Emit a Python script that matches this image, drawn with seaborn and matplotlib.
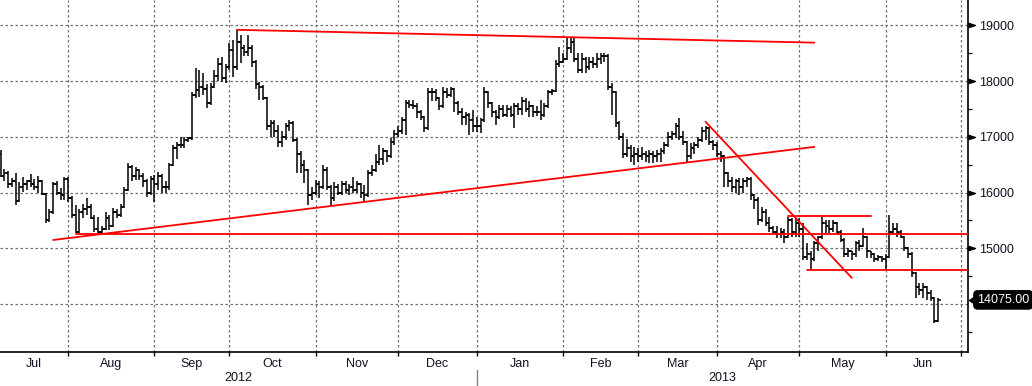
import matplotlib
matplotlib.use('Agg')
import numpy as np
import pandas as pd
import matplotlib.pyplot as plt
import matplotlib.transforms as mtransforms
import seaborn as sns

# daily bars, first bar on 2012-07-06 (business days)
first_day = '2012-07-06'

highs = [16770, 16420, 16380, 16260, 16350, 16190, 16280, 16230, 16330, 16250,
         16300, 16220, 16000, 15700, 16190, 16200, 16080, 16280, 16280, 15940,
         15780, 15700, 15800, 15900, 15800, 15600, 15560, 15400, 15650, 15600,
         15720, 15700, 15800, 16100, 16530, 16500, 16460, 16430, 16350, 16240,
         16300, 16310, 16370, 16330, 16200, 16530, 16860, 16900, 17000, 17000,
         17000, 17800, 18230, 18200, 18150, 17950, 17960, 18200, 18410, 18430,
         18300, 18680, 18740, 18920, 18830, 18650, 18830, 18640, 18380, 17980,
         17930, 17710, 17300, 17300, 17210, 17100, 17250, 17300, 17280, 16980,
         16740, 16590, 16420, 16100, 16230, 16200, 16490, 16450, 16130, 16190,
         16150, 16200, 16200, 16150, 16280, 16200, 16180, 16140, 16400, 16500,
         16700, 16850, 16800, 16760, 16980, 17120, 17200, 17350, 17660, 17660,
         17660, 17600, 17480, 17380, 17880, 17880, 17850, 17720, 17890, 17880,
         17900, 17880, 17650, 17510, 17450, 17430, 17480, 17350, 17340, 17890,
         17830, 17620, 17480, 17570, 17570, 17570, 17550, 17600, 17600, 17710,
         17700, 17650, 17570, 17550, 17660, 17600, 17840, 17850, 18380, 18620,
         18500, 18770, 18770, 18770, 18500, 18500, 18430, 18430, 18430, 18500,
         18500, 18500, 18480, 17960, 17830, 17280, 17060, 16970, 16850, 16820,
         16800, 16820, 16750, 16760, 16750, 16760, 16800, 16900, 17080, 17100,
         17240, 17330, 17100, 16930, 16890, 16900, 17000, 17180, 17200, 17180,
         16950, 16900, 16750, 16680, 16370, 16280, 16250, 16260, 16260, 16280,
         16280, 15980, 15920, 15740, 15700, 15560, 15400, 15400, 15360, 15350,
         15560, 15540, 15540, 15540, 15450, 15100, 14950, 15140, 15230, 15560,
         15500, 15500, 15500, 15480, 15330, 15180, 15000, 14960, 15140, 15150,
         15360, 15230, 14960, 14910, 14880, 14870, 14900, 15590, 15450, 15450,
         15330, 15230, 15020, 14930, 14580, 14380, 14380, 14330, 14250, 14120,
         14100]

lows = [16280, 16200, 16090, 16100, 15780, 15830, 16010, 16050, 16100, 16050,
        16000, 15950, 15450, 15480, 15620, 15950, 15870, 15870, 15830, 15540,
        15270, 15280, 15550, 15600, 15520, 15300, 15280, 15280, 15330, 15330,
        15380, 15550, 15560, 15720, 16020, 16200, 16230, 16230, 16100, 15920,
        15950, 15830, 16050, 15990, 16000, 16050, 16470, 16600, 16800, 16800,
        16900, 16950, 17700, 17710, 17750, 17510, 17580, 17880, 18000, 17980,
        17960, 18200, 18070, 18200, 18320, 18450, 18450, 18250, 17860, 17660,
        17660, 17120, 17000, 17000, 16820, 16820, 16950, 17100, 16900, 16350,
        16350, 16170, 15780, 15870, 15960, 15900, 16060, 16050, 15780, 15850,
        15950, 15950, 16000, 15950, 16000, 16000, 15900, 15830, 15920, 16300,
        16370, 16490, 16500, 16550, 16620, 16850, 17000, 17050, 17030, 17520,
        17500, 17340, 17300, 17080, 17120, 17640, 17640, 17480, 17520, 17700,
        17720, 17440, 17400, 17210, 17210, 17030, 17080, 17080, 17070, 17270,
        17510, 17350, 17210, 17320, 17350, 17350, 17350, 17150, 17400, 17400,
        17450, 17350, 17350, 17380, 17300, 17350, 17520, 17750, 17800, 18250,
        18320, 18380, 18500, 18340, 18140, 18140, 18150, 18200, 18230, 18230,
        18300, 18350, 17840, 17390, 17170, 16950, 16620, 16630, 16550, 16490,
        16550, 16580, 16550, 16530, 16530, 16550, 16550, 16700, 16820, 16950,
        16980, 16950, 16850, 16530, 16600, 16700, 16800, 16900, 16950, 16850,
        16760, 16630, 16550, 16100, 16100, 16010, 16000, 15960, 16000, 16100,
        15870, 15700, 15420, 15470, 15400, 15300, 15270, 15180, 15180, 15100,
        15180, 15200, 15200, 15200, 14790, 14790, 14610, 14770, 14960, 15170,
        15270, 15270, 15300, 15250, 15110, 14840, 14840, 14790, 14850, 14950,
        15020, 14820, 14820, 14750, 14780, 14750, 14610, 14820, 15250, 15200,
        15180, 14960, 14820, 14490, 14110, 14160, 14100, 14070, 14050, 13660,
        13670]

opens = [16700, 16300, 16350, 16150, 16200, 15850, 16100, 16150, 16200, 16150,
         16100, 16200, 15980, 15500, 15650, 16150, 16000, 15950, 16250, 15900,
         15600, 15300, 15650, 15700, 15750, 15550, 15350, 15300, 15350, 15550,
         15400, 15650, 15600, 15750, 16050, 16450, 16300, 16400, 16300, 16200,
         16000, 16250, 16150, 16300, 16100, 16100, 16500, 16800, 16850, 16850,
         16950, 16980, 17750, 17840, 17900, 17850, 17600, 17900, 18100, 18300,
         18050, 18250, 18550, 18250, 18700, 18600, 18520, 18600, 18340, 17950,
         17900, 17700, 17200, 17250, 17100, 16900, 17000, 17200, 17250, 16950,
         16700, 16500, 16400, 15950, 16000, 16150, 16100, 16400, 16100, 15900,
         16100, 16000, 16150, 16050, 16100, 16050, 16150, 16000, 15950, 16350,
         16400, 16550, 16600, 16750, 16650, 16900, 17050, 17100, 17300, 17600,
         17580, 17550, 17450, 17350, 17150, 17800, 17800, 17700, 17550, 17800,
         17750, 17850, 17600, 17450, 17350, 17400, 17300, 17200, 17200, 17300,
         17800, 17600, 17450, 17350, 17500, 17400, 17500, 17400, 17550, 17500,
         17650, 17500, 17550, 17450, 17450, 17400, 17550, 17800, 17820, 18300,
         18350, 18400, 18600, 18700, 18400, 18200, 18400, 18250, 18350, 18300,
         18400, 18450, 18450, 17900, 17800, 17250, 17000, 16700, 16800, 16650,
         16700, 16650, 16700, 16650, 16700, 16650, 16700, 16750, 16850, 17000,
         17050, 17200, 17000, 16900, 16650, 16800, 16850, 16950, 17100, 17150,
         16900, 16850, 16700, 16650, 16350, 16200, 16100, 16200, 16100, 16200,
         16250, 15950, 15870, 15500, 15650, 15450, 15360, 15300, 15250, 15300,
         15200, 15500, 15300, 15450, 15350, 14850, 14900, 14800, 15100, 15200,
         15450, 15400, 15350, 15450, 15300, 15150, 14900, 14950, 14900, 15100,
         15050, 15200, 14950, 14900, 14800, 14850, 14800, 14850, 15300, 15350,
         15300, 15200, 15000, 14900, 14550, 14300, 14250, 14300, 14200, 14100,
         13700]

closes = [16300, 16350, 16150, 16200, 15850, 16100, 16150, 16200, 16150, 16100,
          16200, 15980, 15500, 15650, 16150, 16000, 15950, 16250, 15900, 15600,
          15300, 15650, 15700, 15750, 15550, 15350, 15300, 15350, 15550, 15400,
          15650, 15600, 15750, 16050, 16450, 16300, 16400, 16300, 16200, 16000,
          16250, 16150, 16300, 16100, 16100, 16500, 16800, 16850, 16850, 16950,
          16980, 17750, 17840, 17900, 17850, 17600, 17900, 18100, 18300, 18050,
          18250, 18550, 18250, 18700, 18600, 18520, 18600, 18340, 17950, 17900,
          17700, 17200, 17250, 17100, 16900, 17000, 17200, 17250, 16950, 16700,
          16500, 16400, 15950, 16000, 16150, 16100, 16400, 16100, 15900, 16100,
          16000, 16150, 16050, 16100, 16050, 16150, 16000, 15950, 16350, 16400,
          16550, 16600, 16750, 16650, 16900, 17050, 17100, 17300, 17600, 17580,
          17550, 17450, 17350, 17150, 17800, 17800, 17700, 17550, 17800, 17750,
          17850, 17600, 17450, 17350, 17400, 17300, 17200, 17200, 17300, 17800,
          17600, 17450, 17350, 17500, 17400, 17500, 17400, 17550, 17500, 17650,
          17500, 17550, 17450, 17450, 17400, 17550, 17800, 17820, 18300, 18350,
          18400, 18600, 18700, 18400, 18200, 18400, 18250, 18350, 18300, 18400,
          18450, 18450, 17900, 17800, 17250, 17000, 16700, 16800, 16650, 16700,
          16650, 16700, 16650, 16700, 16650, 16700, 16750, 16850, 17000, 17050,
          17200, 17000, 16900, 16650, 16800, 16850, 16950, 17100, 17150, 16900,
          16850, 16700, 16650, 16350, 16200, 16100, 16200, 16100, 16200, 16250,
          15950, 15870, 15500, 15650, 15450, 15360, 15300, 15250, 15300, 15200,
          15500, 15300, 15450, 15350, 14850, 14900, 14800, 15100, 15200, 15450,
          15400, 15350, 15450, 15300, 15150, 14900, 14950, 14900, 15100, 15050,
          15200, 14950, 14900, 14800, 14850, 14800, 14850, 15300, 15350, 15300,
          15200, 15000, 14900, 14550, 14300, 14250, 14300, 14200, 14100, 13700,
          14075]

last_price = 14075.00

# hand drawn trend lines
trend_start_dates = ['2012-10-03', '2012-07-26', '2012-08-03', '2013-03-27', '2013-04-26', '2013-05-03']
trend_start_prices = [18920, 15150, 15250, 17270, 15580, 14610]
trend_end_dates = ['2013-05-07', '2013-05-07', '2013-07-03', '2013-05-21', '2013-05-28', '2013-07-03']
trend_end_prices = [18690, 16820, 15250, 14470, 15580, 14610]

month_labels = ['Jul', 'Aug', 'Sep', 'Oct', 'Nov', 'Dec', 'Jan', 'Feb', 'Mar', 'Apr', 'May', 'Jun']
year_labels = ['2012', '2013']
price_ticks = [14000, 15000, 16000, 17000, 18000, 19000]

sns.set_style('white')
plt.rcParams['font.family'] = ['Liberation Sans', 'DejaVu Sans']
txt_color = '#111122'

days = pd.bdate_range(first_day, '2013-07-31')
n = len(closes)
xs = np.arange(n)

fig = plt.figure(figsize=(10.32, 3.86), dpi=100)
ax = fig.add_axes([0, 34 / 386, 968 / 1032, 352 / 386])

xmin, xmax = -0.2, 258
ax.set_xlim(xmin, xmax)
ax.set_ylim(13140, 19455)

# OHLC bars
ax.vlines(xs, lows, highs, color='black', lw=1.1, zorder=3)
ax.hlines(opens, xs - 0.7, xs, color='black', lw=1.1, zorder=3)
ax.hlines(closes, xs, xs + 0.7, color='black', lw=1.1, zorder=3)

# trend lines
rows = []
for k in range(len(trend_start_dates)):
    i0 = days.searchsorted(pd.Timestamp(trend_start_dates[k]))
    i1 = days.searchsorted(pd.Timestamp(trend_end_dates[k]))
    rows.append({'x': i0, 'price': trend_start_prices[k], 'line': k})
    rows.append({'x': i1, 'price': trend_end_prices[k], 'line': k})
tl = pd.DataFrame(rows)
sns.lineplot(data=tl, x='x', y='price', units='line', estimator=None, color='#ff0000',
             lw=1.3, sort=False, legend=False, ax=ax, zorder=4)
ax.set_xlabel('')
ax.set_ylabel('')

# month boundaries
bounds = []
for y, m in [(2012, 8), (2012, 9), (2012, 10), (2012, 11), (2012, 12), (2013, 1),
             (2013, 2), (2013, 3), (2013, 4), (2013, 5), (2013, 6), (2013, 7)]:
    bounds.append(days.searchsorted(pd.Timestamp(y, m, 1)))
edges = [xmin] + bounds
centers = [(edges[k] + edges[k + 1]) / 2 for k in range(len(month_labels))]

ax.set_xticks(bounds)
ax.set_xticklabels([])
ax.set_xticks(centers, minor=True)
ax.set_xticklabels(month_labels, minor=True)
ax.tick_params(axis='x', which='major', direction='out', length=3, width=1, color='black', bottom=True)
ax.tick_params(axis='x', which='minor', length=0, pad=4, labelsize=9, labelcolor=txt_color)

ax.yaxis.tick_right()
ax.set_yticks(price_ticks)
ax.set_yticklabels([''] + [str(p) for p in price_ticks[1:]])
ax.set_yticks([13500, 14500, 15500, 16500, 17500, 18500], minor=True)
ax.tick_params(axis='y', which='major', length=0, pad=8, labelsize=9, labelcolor=txt_color)
ax.tick_params(axis='y', which='minor', direction='out', length=3, width=0.9, color='black', right=True, left=False)

ax.grid(True, which='major', color='#707070', linestyle=(0, (2, 2)), lw=0.9)
ax.grid(False, which='minor')
for s in ['top', 'left']:
    ax.spines[s].set_visible(False)
for s in ['right', 'bottom']:
    ax.spines[s].set_color('black')
    ax.spines[s].set_linewidth(1.2)

# triangle tick markers on right axis
ytrans = mtransforms.blended_transform_factory(ax.transAxes, ax.transData)
tri = [(0, -0.45), (1.4, 0), (0, 0.45), (0, -0.45)]
ax.plot([1.0] * 5, price_ticks[1:], ls='none', marker=tri, ms=10, color='black',
        transform=ytrans, clip_on=False, zorder=5)

# last price label
ax.plot([1.0], [last_price], ls='none', marker=[(0, 0), (1.2, -0.8), (1.2, 0.8), (0, 0)], ms=10,
        color='black', transform=ytrans + mtransforms.ScaledTranslation(1 / 100, 0, fig.dpi_scale_trans),
        clip_on=False, zorder=5)
ax.text(1.0, last_price, f'{last_price:.2f}', transform=ytrans + mtransforms.ScaledTranslation(9 / 100, 0, fig.dpi_scale_trans),
        color='white', fontsize=9, va='center', ha='left', zorder=6,
        bbox=dict(boxstyle='round,pad=0.25,rounding_size=0.3', fc='black', ec='black'))

# year row
xtrans = mtransforms.blended_transform_factory(ax.transData, ax.transAxes)
jan = days.searchsorted(pd.Timestamp(2013, 1, 1))
for label, (a, b) in zip(year_labels, [(xmin, jan), (jan, xmax)]):
    ax.text((a + b) / 2, -26 / 352, label, transform=xtrans, ha='center', va='center',
            fontsize=9, color=txt_color)
ax.plot([jan, jan], [-18 / 352, -34 / 352], color='#808080', lw=1, transform=xtrans, clip_on=False)

fig.savefig('out.png', dpi=100)
